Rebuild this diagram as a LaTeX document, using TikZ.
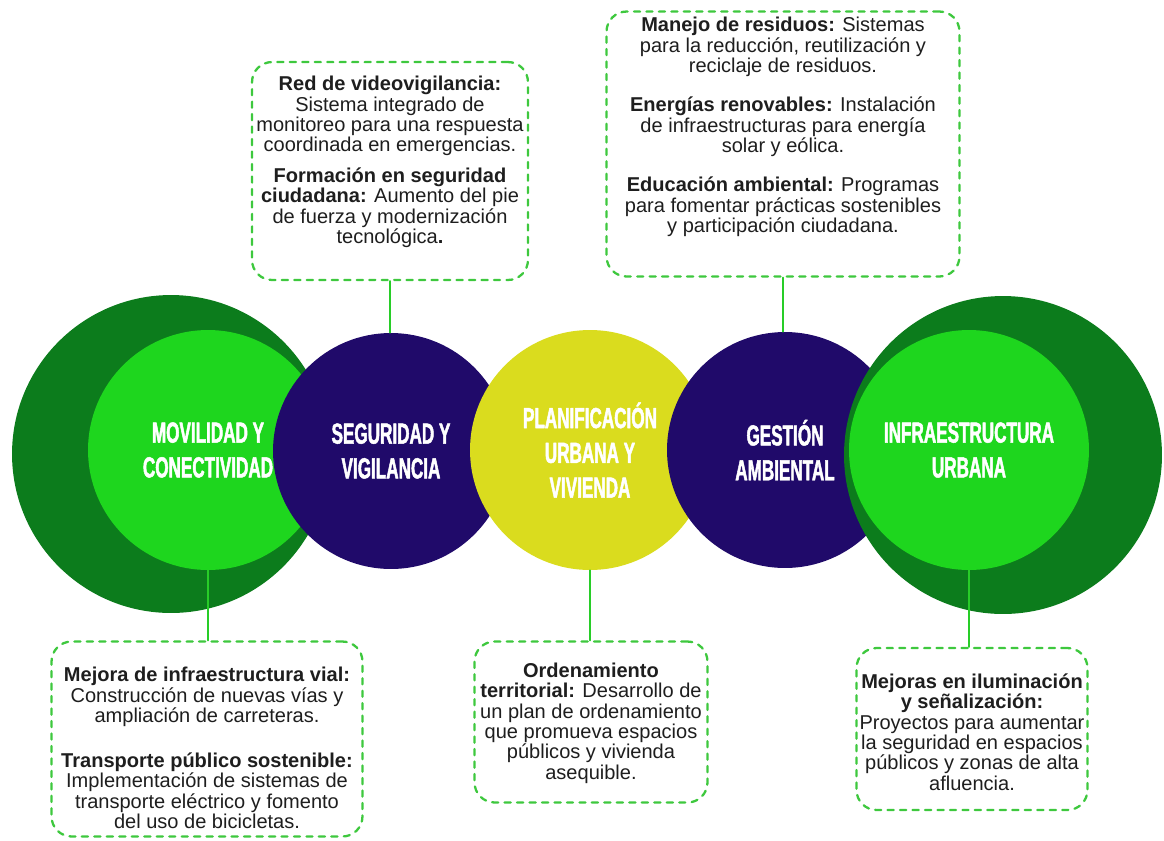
\documentclass[tikz,border=0pt]{standalone}
\usepackage{fontspec}
\setmainfont{Liberation Sans}
\newfontfamily\titlefont[FakeStretch=0.59,FakeBold=1.6]{Liberation Sans}
\definecolor{darkgreen}{RGB}{12,124,28}
\definecolor{lightgreen}{RGB}{30,214,30}
\definecolor{navy}{RGB}{32,10,106}
\definecolor{lemon}{RGB}{218,220,30}
\definecolor{dashgreen}{RGB}{62,200,62}
\definecolor{linegreen}{RGB}{40,205,40}
\definecolor{ink}{RGB}{30,30,30}
\begin{document}
\begin{tikzpicture}[x=0.02cm,y=-0.02cm,line join=round,line cap=round]
				\tikzset{disc/.style={circle,inner sep=0pt,text=white,align=center,font=\titlefont\bfseries\fontsize{16.5}{19.8}\selectfont},
				notebox/.style={draw=dashgreen,line width=1.3pt,dash pattern=on 3.5pt off 3.6pt,rounded corners=0.4cm,fill=white},
				notetext/.style={text=ink,align=center,inner sep=0pt,font=\fontsize{11.4}{11.6}\selectfont},
				link/.style={draw=linegreen,line width=1.2pt}}
				\useasboundingbox (0,0) rectangle (1164,840);
				% circles, back to front
				\node[disc,fill=darkgreen,minimum size=6.36cm] (movring) at (171,454) {};
				\node[disc,fill=lightgreen,minimum size=4.8cm] (movil) at (208,450) {MOVILIDAD Y\\CONECTIVIDAD};
				\node[disc,fill=navy,minimum size=4.72cm] (segur) at (391,451) {SEGURIDAD Y\\VIGILANCIA};
				\node[disc,fill=lemon,minimum size=4.8cm] (plan) at (590,450) {PLANIFICACIÓN\\URBANA Y\\VIVIENDA};
				\node[disc,fill=navy,minimum size=4.72cm] (gest) at (785,450) {GESTIÓN\\AMBIENTAL};
				\node[disc,fill=darkgreen,minimum size=6.36cm] (infring) at (1003,455) {};
				\node[disc,fill=lightgreen,minimum size=4.8cm] (infra) at (969,450) {INFRAESTRUCTURA\\URBANA};
				% boxes
				\node[notebox,minimum width=5.52cm,minimum height=4.36cm] (segbox) at (390,171) {};
				\node[notetext] at (390,162) {\textbf{Red de videovigilancia:}\\ Sistema integrado de\\ monitoreo para una respuesta\\ coordinada en emergencias.\\[5.7pt]
					\textbf{Formación en seguridad}\\ \textbf{ciudadana:} Aumento del pie\\ de fuerza y modernización\\ tecnológica\textbf{.}};
				\node[notebox,minimum width=7.06cm,minimum height=5.3cm] (gesbox) at (783,144) {};
				\node[notetext] at (783,127) {\textbf{Manejo de residuos:} Sistemas\\ para la reducción, reutilización y\\ reciclaje de residuos.\\[10.8pt]
					\textbf{Energías renovables:} Instalación\\ de infraestructuras para energía\\ solar y eólica.\\[10.8pt]
					\textbf{Educación ambiental:} Programas\\ para fomentar prácticas sostenibles\\ y participación ciudadana.};
				\node[notebox,minimum width=6.22cm,minimum height=3.9cm] (movbox) at (207,739) {};
				\node[notetext] at (207,748) {\textbf{Mejora de infraestructura vial:}\\ Construcción de nuevas vías y\\ ampliación de carreteras.\\[14pt]
					\textbf{Transporte público sostenible:}\\ Implementación de sistemas de\\ transporte eléctrico y fomento\\ del uso de bicicletas.};
				\node[notebox,minimum width=4.66cm,minimum height=3.22cm] (plabox) at (591,722) {};
				\node[notetext] at (591,723) {\textbf{Ordenamiento}\\ \textbf{territorial:} Desarrollo de\\ un plan de ordenamiento\\ que promueva espacios\\ públicos y vivienda\\ asequible.};
				\node[notebox,minimum width=4.62cm,minimum height=3.24cm] (infbox) at (972,729) {};
				\node[notetext] at (972,732) {\textbf{Mejoras en iluminación}\\ \textbf{y señalización:}\\ Proyectos para aumentar\\ la seguridad en espacios\\ públicos y zonas de alta\\ afluencia.};
				% connectors
				\draw[link] (segbox.south) -- (segbox.south |- segur.north);
				\draw[link] (gesbox.south) -- (gesbox.south |- gest.north);
				\draw[link] (movil.south) -- (movil.south |- movbox.north);
				\draw[link] (plan.south) -- (plan.south |- plabox.north);
				\draw[link] (infra.south) -- (infra.south |- infbox.north);
				\end{tikzpicture}
\end{document}
